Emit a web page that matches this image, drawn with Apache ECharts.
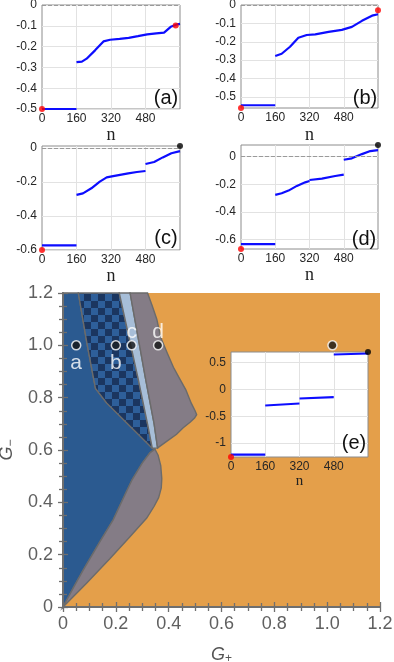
<!DOCTYPE html>
<html>
<head>
<meta charset="utf-8">
<script src="https://cdn.jsdelivr.net/npm/echarts@6/dist/echarts.min.js"></script>
<style>
  html, body { margin: 0; background: #fff; }
  #chart { width: 394px; height: 662px; }
</style>
</head>
<body>
<div id="chart"></div>
<script>
// phase diagram, boundaries in (G+, G-)
const blueRegion = [[0,0],[0.04,0.075],[0.077,0.142],[0.14,0.25],[0.19,0.333],[0.235,0.43],[0.262,0.487],[0.3,0.55],[0.33,0.59],[0.348,0.603],
  [0.338,0.607],[0.165,0.78],[0.123,0.835],[0.092,1.0],[0.058,1.2],[0,1.2]];
const lensRegion = [[0,0],[0.04,0.075],[0.077,0.142],[0.14,0.25],[0.19,0.333],[0.235,0.43],[0.262,0.487],[0.3,0.55],[0.33,0.59],[0.348,0.603],
  [0.36,0.58],[0.37,0.54],[0.374,0.49],[0.372,0.455],[0.362,0.418],[0.345,0.385],[0.317,0.34],[0.25,0.265],[0.178,0.185],[0.09,0.092]];
const checkRegion = [[0.058,1.2],[0.092,1.0],[0.123,0.835],[0.165,0.78],[0.338,0.607],[0.32,0.7],[0.285,0.87],[0.213,1.2]];
const stripeRegion = [[0.213,1.2],[0.285,0.87],[0.32,0.7],[0.338,0.607],[0.358,0.608],[0.345,0.7],[0.313,0.87],[0.254,1.2]];
const grayRegion = [[0.254,1.2],[0.32,1.2],[0.338,1.15],[0.355,1.1],[0.37,1.03],[0.395,0.97],[0.418,0.916],[0.443,0.87],[0.465,0.83],
  [0.485,0.78],[0.5,0.75],[0.506,0.735],[0.498,0.722],[0.481,0.706],[0.455,0.685],[0.43,0.66],[0.395,0.635],[0.358,0.608],[0.345,0.7],[0.313,0.87]];
const markPoints = [[0.05,1.0],[0.2,1.0],[0.26,1.0],[0.36,1.0]];
const markNames = ['a','b','c','d'];
const extraPoint = [[1.02,1.0]];

// insets: n vs value
const nLabels = [0,160,320,480];
const nGrid = [160,320,480];

const aSegs = [
  [[0,-0.5],[160,-0.5]],
  [[160,-0.275],[185,-0.272],[207,-0.258],[246,-0.218],[285,-0.175],[316,-0.167],[360,-0.163],[402,-0.158],[445,-0.15],[488,-0.141],[530,-0.136],[566,-0.133],[597,-0.105],[628,-0.093],[640,-0.091]]
];
const aRed = [[0,-0.5],[620,-0.098]];
const aBlack = [];
const aTicks = [0,-0.1,-0.2,-0.3,-0.4,-0.5];

const bSegs = [
  [[0,-0.545],[160,-0.545]],
  [[160,-0.277],[190,-0.265],[229,-0.227],[268,-0.178],[307,-0.163],[347,-0.16],[409,-0.146],[471,-0.135],[518,-0.119],[565,-0.086],[612,-0.058],[640,-0.05]]
];
const bRed = [[0,-0.56],[640,-0.029]];
const bBlack = [];
const bTicks = [0,-0.1,-0.2,-0.3,-0.4,-0.5];

const cSegs = [
  [[0,-0.573],[160,-0.573]],
  [[160,-0.276],[190,-0.267],[229,-0.237],[268,-0.198],[300,-0.173],[330,-0.165],[400,-0.149],[440,-0.141],[480,-0.135]],
  [[480,-0.094],[520,-0.082],[560,-0.055],[600,-0.031],[640,-0.018]]
];
const cRed = [[0,-0.6]];
const cBlack = [[640,0.012]];
const cTicks = [0,-0.2,-0.4,-0.6];

const dSegs = [
  [[0,-0.634],[160,-0.634]],
  [[160,-0.277],[190,-0.265],[222,-0.246],[261,-0.212],[300,-0.186],[320,-0.176]],
  [[320,-0.169],[378,-0.159],[440,-0.14],[480,-0.13]],
  [[480,-0.022],[518,-0.012],[565,0.019],[604,0.041],[640,0.048]]
];
const dRed = [[0,-0.67]];
const dBlack = [[640,0.085]];
const dTicks = [0,-0.2,-0.4,-0.6];

const eSegs = [
  [[0,-1.215],[160,-1.215]],
  [[160,-0.299],[320,-0.261]],
  [[320,-0.168],[480,-0.143]],
  [[480,0.653],[640,0.672]]
];
const eRed = [[0,-1.26]];
const eBlack = [[640,0.7]];
const eTicks = [0.5,0,-0.5,-1];

const chart = echarts.init(document.getElementById('chart'));

function checker(cell) {
  const cv = document.createElement('canvas');
  cv.width = cv.height = cell * 2;
  const ctx = cv.getContext('2d');
  ctx.fillStyle = '#2e5f9a';
  ctx.fillRect(0, 0, cell * 2, cell * 2);
  ctx.fillStyle = '#1b3660';
  ctx.fillRect(0, 0, cell, cell);
  ctx.fillRect(cell, cell, cell, cell);
  return cv;
}

function region(points, fill, z) {
  return {
    type: 'custom', xAxisIndex: 0, yAxisIndex: 0, z: z, silent: true,
    data: points,
    renderItem: function (params, api) {
      if (params.dataIndex !== 0) return null;
      return {
        type: 'polygon',
        shape: { points: points.map(p => api.coord(p)) },
        style: { fill: fill, stroke: '#6b6b6b', lineWidth: 1.4 }
      };
    }
  };
}

const mainLine = { lineStyle: { color: '#6f6f6f', width: 2 } };
const mainTick = { inside: true, length: 5, lineStyle: { color: '#6f6f6f', width: 1.3 } };
const mainMinor = { show: true, splitNumber: 4, length: 4, lineStyle: { color: '#6f6f6f', width: 1.3 } };
const mainLabel = {
  fontSize: 18, color: '#606060', fontFamily: 'Liberation Sans',
  formatter: v => (v === 0 ? '0' : v.toFixed(1))
};
const gRich = {
  g: { fontStyle: 'italic', fontSize: 18, color: '#555', fontFamily: 'Liberation Sans' },
  s: { fontSize: 12, color: '#555', fontFamily: 'Liberation Sans', padding: [9, 0, 0, 0] }
};

const insetGrids = [
  { left: 42, top: 5, width: 138, height: 104 },
  { left: 241, top: 5, width: 137, height: 103 },
  { left: 42, top: 146, width: 138, height: 104 },
  { left: 241, top: 145, width: 137, height: 104 },
  { left: 231, top: 352, width: 137, height: 105, z: 8 }
];
const insetY = [
  { min: -0.5, max: 0, ticks: aTicks },
  { min: -0.56, max: 0, ticks: bTicks },
  { min: -0.6, max: 0.012, ticks: cTicks },
  { min: -0.67, max: 0.085, ticks: dTicks },
  { min: -1.26, max: 0.7, ticks: eTicks }
];
const insetData = [
  [aSegs, aRed, aBlack], [bSegs, bRed, bBlack], [cSegs, cRed, cBlack], [dSegs, dRed, dBlack], [eSegs, eRed, eBlack]
];
const nameGaps = [14, 18, 15, 14, 17];
const nameSizes = [18, 18, 18, 18, 15];

const grids = [{ left: 63, top: 293, width: 317, height: 314, show: true, backgroundColor: '#e49f4a', borderWidth: 0, outerBoundsMode: 'none' }];
const xAxes = [
  { gridIndex: 0, type: 'value', min: 0, max: 1.2, interval: 0.2, position: 'bottom', z: 5,
    name: '{g|G}{s|+}', nameLocation: 'middle', nameGap: 37, nameTextStyle: { rich: gRich },
    axisLine: mainLine, axisTick: mainTick, minorTick: mainMinor,
    axisLabel: Object.assign({ margin: 8 }, mainLabel), splitLine: { show: false } },
  { gridIndex: 0, type: 'value', min: 0, max: 1.2, interval: 0.2, position: 'top', z: 5,
    axisLine: mainLine, axisTick: mainTick, minorTick: mainMinor,
    axisLabel: { show: false }, splitLine: { show: false } }
];
const yAxes = [
  { gridIndex: 0, type: 'value', min: 0, max: 1.2, interval: 0.2, position: 'left', z: 5,
    name: '{g|G}{s|−}', nameLocation: 'middle', nameGap: 45, nameTextStyle: { rich: gRich },
    axisLine: mainLine, axisTick: mainTick, minorTick: mainMinor,
    axisLabel: Object.assign({ margin: 10 }, mainLabel), splitLine: { show: false } },
  { gridIndex: 0, type: 'value', min: 0, max: 1.2, interval: 0.2, position: 'right', z: 5,
    axisLine: mainLine, axisTick: mainTick, minorTick: mainMinor,
    axisLabel: { show: false }, splitLine: { show: false } }
];

const series = [
  region(blueRegion, '#2b5a90', 1),
  region(lensRegion, '#847c86', 2),
  region(checkRegion, { image: checker(7), repeat: 'repeat' }, 2),
  region(stripeRegion, '#a7bed8', 2),
  region(grayRegion, '#847c86', 2),
  {
    type: 'scatter', xAxisIndex: 0, yAxisIndex: 0, z: 6, symbolSize: 9,
    itemStyle: { color: '#151515', borderColor: '#fff', borderWidth: 1.5 },
    data: markPoints.map((p, i) => ({
      value: p,
      label: { show: true, formatter: markNames[i], position: i < 2 ? 'bottom' : 'top', distance: i < 2 ? 2 : -3,
        color: '#fff', fontSize: 21, fontFamily: 'Liberation Sans' }
    }))
  },
  {
    type: 'scatter', xAxisIndex: 0, yAxisIndex: 0, z: 6, symbolSize: 9,
    itemStyle: { color: '#151515', borderColor: '#fff', borderWidth: 1.5 },
    data: extraPoint
  }
];

insetGrids.forEach((g, k) => {
  const gi = k + 1, ai = k + 2;
  const onTop = k === 4;
  grids.push(Object.assign({ show: true, backgroundColor: '#fff', borderColor: '#8c8c8c', borderWidth: 1, outerBoundsMode: 'none' }, g));
  xAxes.push({
    gridIndex: gi, type: 'value', min: 0, max: 640, z: onTop ? 10 : 0,
    name: 'n', nameLocation: 'middle', nameGap: nameGaps[k],
    nameTextStyle: { fontFamily: 'Liberation Serif', fontSize: nameSizes[k], color: '#222' },
    axisLine: { show: false },
    axisTick: { show: false, customValues: nGrid },
    axisLabel: { customValues: nLabels, fontSize: 12, color: '#262626', margin: 4, fontFamily: 'Liberation Sans' },
    splitLine: { show: true, lineStyle: { color: '#e2e2e2', width: 1 } }
  });
  yAxes.push({
    gridIndex: gi, type: 'value', min: insetY[k].min, max: insetY[k].max, z: onTop ? 10 : 0,
    axisLine: { show: false },
    axisTick: { show: false, customValues: insetY[k].ticks },
    axisLabel: { customValues: insetY[k].ticks, fontSize: 12, color: '#262626', margin: 5, fontFamily: 'Liberation Sans' },
    splitLine: { show: true, lineStyle: { color: '#e2e2e2', width: 1 } }
  });
  const [segs, red, black] = insetData[k];
  segs.forEach((s, j) => {
    const ser = {
      type: 'line', xAxisIndex: ai, yAxisIndex: ai, z: onTop ? 12 : 2, data: s,
      showSymbol: false, lineStyle: { color: '#0d0dff', width: 2.2 }
    };
    if (j === 0) {
      ser.markLine = {
        silent: true, symbol: 'none', label: { show: false },
        lineStyle: { type: 'dashed', color: '#9a9a9a', width: 1 },
        data: [{ yAxis: 0 }]
      };
    }
    series.push(ser);
  });
  series.push({ type: 'scatter', xAxisIndex: ai, yAxisIndex: ai, z: onTop ? 13 : 3, symbolSize: 6,
    itemStyle: { color: '#ff0000' }, data: red });
  series.push({ type: 'scatter', xAxisIndex: ai, yAxisIndex: ai, z: onTop ? 13 : 3, symbolSize: 6,
    itemStyle: { color: '#000' }, data: black });
});

const tags = [['(a)', 166, 98], ['(b)', 365, 98], ['(c)', 166, 238], ['(d)', 364, 239], ['(e)', 354, 443]];

chart.setOption({
  animation: false,
  backgroundColor: '#fff',
  grid: grids,
  xAxis: xAxes,
  yAxis: yAxes,
  series: series,
  graphic: tags.map(t => ({
    type: 'text', x: t[1], y: t[2], z: 30,
    style: { text: t[0], fill: '#111', font: '20px "Liberation Sans"', align: 'center', verticalAlign: 'middle' }
  }))
});
</script>
</body>
</html>
